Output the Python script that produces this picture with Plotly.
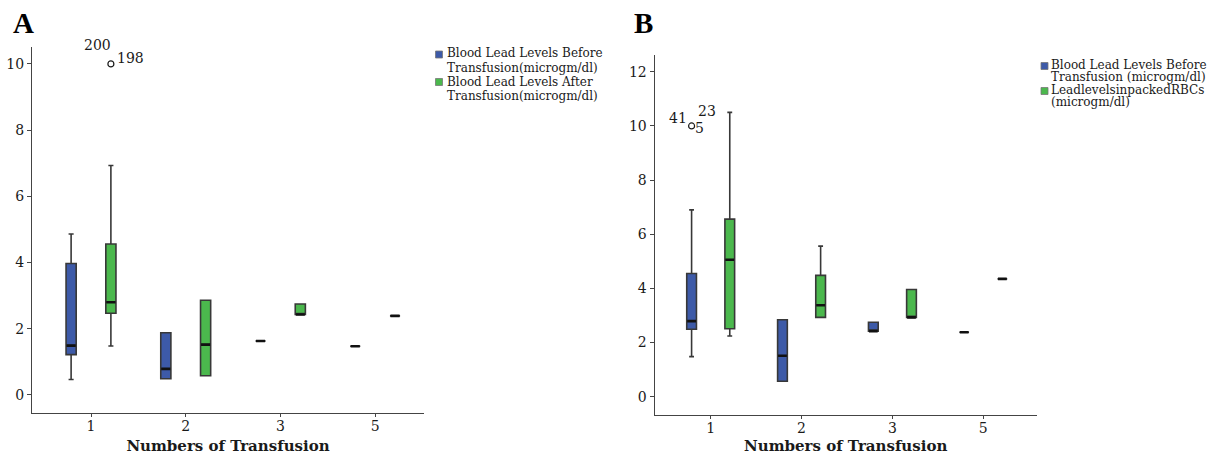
import plotly.graph_objects as go

# ---------------- data ----------------
categories = ["1", "2", "3", "5"]

# Panel A: before / after transfusion
a_before_low = [0.47, 0.49, 1.63, 1.47]
a_before_q1 = [1.22, 0.49, 1.63, 1.47]
a_before_med = [1.49, 0.79, 1.63, 1.47]
a_before_q3 = [3.97, 1.88, 1.63, 1.47]
a_before_high = [4.86, 1.88, 1.63, 1.47]

a_after_low = [1.48, 0.58, 2.43, 2.39]
a_after_q1 = [2.47, 0.58, 2.43, 2.39]
a_after_med = [2.80, 1.52, 2.43, 2.39]
a_after_q3 = [4.56, 2.86, 2.75, 2.39]
a_after_high = [6.93, 2.86, 2.75, 2.39]

a_outlier_cat = ["1"]
a_outlier_val = [10.0]

# Panel B: before transfusion / packed RBCs
b_before_low = [1.48, 0.57, 2.42, 2.38]
b_before_q1 = [2.49, 0.57, 2.42, 2.38]
b_before_med = [2.79, 1.51, 2.42, 2.38]
b_before_q3 = [4.55, 2.84, 2.75, 2.38]
b_before_high = [6.90, 2.84, 2.75, 2.38]

b_rbc_low = [2.24, 2.93, 2.93, 4.35]
b_rbc_q1 = [2.51, 2.93, 2.93, 4.35]
b_rbc_med = [5.06, 3.38, 2.93, 4.35]
b_rbc_q3 = [6.56, 4.48, 3.96, 4.35]
b_rbc_high = [10.5, 5.56, 3.96, 4.35]

b_outlier_cat = ["1"]
b_outlier_val = [10.0]

# ---------------- style ----------------
BLUE = "#3d5aa8"
GREEN = "#4bb84d"
EDGE = "#383838"
TXT = "#1a1a1a"
SERIF = "DejaVu Serif"
OFFSET = 0.21
BOXW = 0.107

idx = {c: i for i, c in enumerate(categories)}
pos = list(range(len(categories)))


def boxes(xa, ya, low, q1, med, q3, high, color, side):
    xs = [p + side * OFFSET for p in pos]
    main = go.Box(
        x=xs, lowerfence=low, q1=q1, median=med, q3=q3, upperfence=high,
        fillcolor=color, line=dict(color=EDGE, width=1.6), width=BOXW,
        whiskerwidth=0.5, boxpoints=False, showlegend=False,
        xaxis=xa, yaxis=ya, hoverinfo="skip",
    )
    mline = go.Box(
        x=xs, lowerfence=med, q1=med, median=med, q3=med, upperfence=med,
        fillcolor="rgba(0,0,0,0)", line=dict(color="#111111", width=2.6),
        width=BOXW * 0.9, whiskerwidth=0, boxpoints=False, showlegend=False,
        xaxis=xa, yaxis=ya, hoverinfo="skip",
    )
    return [main, mline]


fig = go.Figure()
for t in boxes("x", "y", a_before_low, a_before_q1, a_before_med, a_before_q3, a_before_high, BLUE, -1):
    fig.add_trace(t)
for t in boxes("x", "y", a_after_low, a_after_q1, a_after_med, a_after_q3, a_after_high, GREEN, 1):
    fig.add_trace(t)
for t in boxes("x2", "y2", b_before_low, b_before_q1, b_before_med, b_before_q3, b_before_high, BLUE, -1):
    fig.add_trace(t)
for t in boxes("x2", "y2", b_rbc_low, b_rbc_q1, b_rbc_med, b_rbc_q3, b_rbc_high, GREEN, 1):
    fig.add_trace(t)

# outliers
fig.add_trace(go.Scatter(
    x=[idx[c] + OFFSET for c in a_outlier_cat], y=a_outlier_val, mode="markers",
    marker=dict(symbol="circle-open", size=6, color=TXT, line=dict(width=1.2)),
    showlegend=False, xaxis="x", yaxis="y", hoverinfo="skip"))
fig.add_trace(go.Scatter(
    x=[idx[c] - OFFSET for c in b_outlier_cat], y=b_outlier_val, mode="markers",
    marker=dict(symbol="circle-open", size=6, color=TXT, line=dict(width=1.2)),
    showlegend=False, xaxis="x2", yaxis="y2", hoverinfo="skip"))

axis_common = dict(
    showline=True, linecolor="#444444", linewidth=1.3, showgrid=False, zeroline=False,
    ticks="outside", tickcolor="#444444",
    tickfont=dict(family=SERIF, size=14, color=TXT), automargin=False,
)
xaxis_extra = dict(ticklen=3, ticklabelstandoff=-3)
yaxis_extra = dict(ticklen=4)
title_font = dict(family=SERIF, size=15, color=TXT)

fig.update_layout(
    width=1227, height=455,
    margin=dict(l=0, r=0, t=0, b=0),
    paper_bgcolor="white", plot_bgcolor="white",
    showlegend=False,
    xaxis=dict(domain=[0.02608, 0.34556], range=[-0.623, 3.516], tickvals=pos, ticktext=categories,
               title=dict(text="<b>Numbers of Transfusion</b>", font=title_font, standoff=10),
               anchor="y", **axis_common, **xaxis_extra),
    yaxis=dict(domain=[0.09165, 0.89670], range=[-0.553, 10.51], tickvals=[0, 2, 4, 6, 8, 10],
               anchor="x", **axis_common, **yaxis_extra),
    xaxis2=dict(domain=[0.53358, 0.84491], range=[-0.616, 3.588], tickvals=pos, ticktext=categories,
                title=dict(text="<b>Numbers of Transfusion</b>", font=title_font, standoff=10),
                anchor="y2", **axis_common, **xaxis_extra),
    yaxis2=dict(domain=[0.08791, 0.87912], range=[-0.676, 12.62], tickvals=[0, 2, 4, 6, 8, 10, 12],
                anchor="x2", **axis_common, **yaxis_extra),
)

# panel letters
for txt, xp in (("A", 23 / 1227), ("B", 643.5 / 1227)):
    fig.add_annotation(text=f"<b>{txt}</b>", x=xp, y=1 - 23 / 455, xref="paper", yref="paper",
                       xanchor="center", yanchor="middle", showarrow=False,
                       font=dict(family="Liberation Serif", size=29, color="#000"))

# outlier labels
lab = dict(family=SERIF, size=14, color=TXT)
ax0 = idx["1"] + OFFSET
fig.add_annotation(text="200", x=ax0, y=10, xref="x", yref="y", showarrow=False, xshift=-13, yshift=19, font=lab)
fig.add_annotation(text="198", x=ax0, y=10, xref="x", yref="y", showarrow=False, xshift=20, yshift=6, font=lab)
bx0 = idx["1"] - OFFSET
fig.add_annotation(text="41", x=bx0, y=10, xref="x2", yref="y2", showarrow=False, xshift=-14, yshift=8, font=lab)
fig.add_annotation(text="23", x=bx0, y=10, xref="x2", yref="y2", showarrow=False, xshift=15, yshift=15, font=lab)
fig.add_annotation(text="5", x=bx0, y=10, xref="x2", yref="y2", showarrow=False, xshift=8, yshift=-2, font=lab)

# manual legends (text lines + swatches)
leg_font = dict(family=SERIF, size=12, color=TXT)
legA = [("Blood Lead Levels Before", 53.3), ("Transfusion(microgm/dl)", 67.7),
        ("Blood Lead Levels After", 82.3), ("Transfusion(microgm/dl)", 96.3)]
for t, yy in legA:
    fig.add_annotation(text=t, x=445 / 1227, y=1 - yy / 455, xref="paper", yref="paper",
                       xanchor="left", yanchor="middle", showarrow=False, font=leg_font)
legB = [("Blood Lead Levels Before", 65), ("Transfusion (microgm/dl)", 76.5),
        ("LeadlevelsinpackedRBCs", 90), ("(microgm/dl)", 101.7)]
for t, yy in legB:
    fig.add_annotation(text=t, x=1048.5 / 1227, y=1 - yy / 455, xref="paper", yref="paper",
                       xanchor="left", yanchor="middle", showarrow=False, font=leg_font)

for (x0, yc, col) in ((435.5, 54.5, BLUE), (435.5, 82, GREEN), (1041, 66, BLUE), (1041, 91, GREEN)):
    fig.add_shape(type="rect", xref="paper", yref="paper",
                  x0=x0 / 1227, x1=(x0 + 7) / 1227, y0=1 - (yc + 3.5) / 455, y1=1 - (yc - 3.5) / 455,
                  fillcolor=col, line=dict(color="#777777", width=0.8))

fig.write_html("out.html", config={"displayModeBar": False},
               post_script="document.body.style.margin='0';document.body.style.overflow='hidden';")
